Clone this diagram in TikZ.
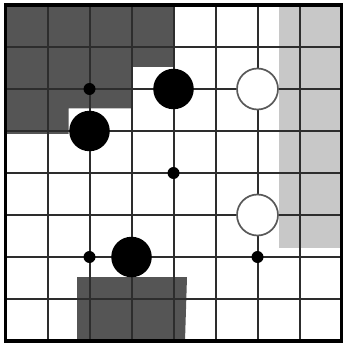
\documentclass[tikz,border=0pt]{standalone}
\definecolor{darkreg}{RGB}{85,85,85}
\definecolor{lightreg}{RGB}{200,200,200}
\definecolor{gridcol}{RGB}{45,45,45}
\begin{document}
\begin{tikzpicture}[x=1pt,y=-1pt,
  gridline/.style={draw=gridcol,line width=2pt},
  boardedge/.style={draw=black,line width=3.6pt,line join=miter},
  blackstone/.style={circle,fill=black,inner sep=0pt,minimum size=40.5pt},
  whitestone/.style={circle,fill=white,draw=black!65,line width=1.7pt,inner sep=0pt,minimum size=41pt},
  hoshi/.style={circle,fill=black,inner sep=0pt,minimum size=12pt}]
\useasboundingbox (0,0) rectangle (344,344);
\fill[white] (0,0) rectangle (344,344);
% shaded areas
\fill[darkreg] (5.5,5) -- (174,5) -- (174,67) -- (132,67) -- (132,108.5) -- (68.5,108.5) -- (68.5,134) -- (5.5,134) -- cycle;
\fill[lightreg] (279,5) rectangle (341.5,248);
\fill[darkreg] (77,277) -- (187,277) -- (185,341) -- (77,341) -- cycle;
% grid
\foreach \i in {1,...,7} {
  \draw[gridline] (5.5+42*\i,5) -- (5.5+42*\i,341);
  \draw[gridline] (5.5,5+42*\i) -- (341.5,5+42*\i);
}
\draw[boardedge] (5.5,5) rectangle (341.5,341);
% star points
\node[hoshi] (h1) at (89.5,89) {};
\node[hoshi] (h2) at (173.5,173) {};
\node[hoshi] (h3) at (89.5,257) {};
\node[hoshi] (h4) at (257.5,257) {};
% stones
\node[blackstone] (b1) at (173.5,89) {};
\node[blackstone] (b2) at (89.5,131) {};
\node[blackstone] (b3) at (131.5,257) {};
\node[whitestone] (w1) at (257.5,89) {};
\node[whitestone] (w2) at (257.5,215) {};
\end{tikzpicture}
\end{document}
